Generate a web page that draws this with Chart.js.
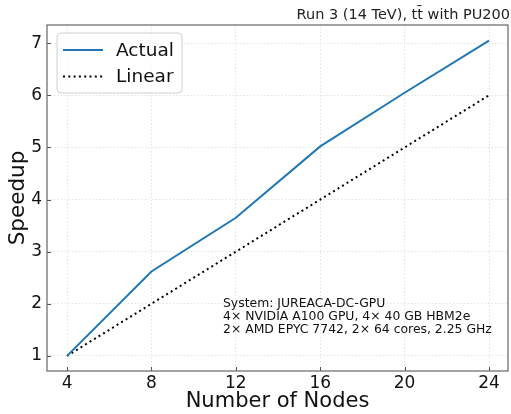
<!DOCTYPE html>
<html><head><meta charset="utf-8">
<script src="https://cdn.jsdelivr.net/npm/chart.js@4"></script>
<style>html,body{margin:0;padding:0;background:#fff}canvas{display:block}</style>
</head><body>
<canvas id="c" width="511" height="414"></canvas>
<script>
const nodes = [4, 8, 12, 16, 20, 24];
const actual = [1, 2.62, 3.65, 5.02, 6.05, 7.05];
const linear = [1, 2, 3, 4, 5, 6];
const xTicks = [4, 8, 12, 16, 20, 24];
const yTicks = [1, 2, 3, 4, 5, 6, 7];
const seriesLabels = ['Actual', 'Linear'];
const titleText = 'Run 3 (14 TeV), tt\u0304 with PU200';
const noteLines = ['System: JUREACA-DC-GPU', '4\u00d7 NVIDIA A100 GPU, 4\u00d7 40 GB HBM2e', '2\u00d7 AMD EPYC 7742, 2\u00d7 64 cores, 2.25 GHz'];
const xTitle = 'Number of Nodes';
const yTitle = 'Speedup';

const FONT = "'DejaVu Sans', sans-serif";

const extras = {
  id: 'extras',
  afterDraw(chart) {
    const ctx = chart.ctx;
    const a = chart.chartArea;
    const xs = chart.scales.x, ys = chart.scales.y;
    ctx.save();
    // inward ticks
    ctx.strokeStyle = '#555';
    ctx.lineWidth = 1;
    ctx.setLineDash([]);
    xTicks.forEach(v => {
      const px = Math.round(xs.getPixelForValue(v)) + 0.5;
      ctx.beginPath(); ctx.moveTo(px, a.bottom); ctx.lineTo(px, a.bottom - 4); ctx.stroke();
    });
    yTicks.forEach(v => {
      const py = Math.round(ys.getPixelForValue(v)) + 0.5;
      ctx.beginPath(); ctx.moveTo(a.left, py); ctx.lineTo(a.left + 4, py); ctx.stroke();
    });
    // frame
    ctx.strokeStyle = '#666';
    ctx.lineWidth = 1.2;
    ctx.strokeRect(a.left, a.top, a.right - a.left, a.bottom - a.top);
    // title
    ctx.fillStyle = '#222';
    ctx.font = '14.5px ' + FONT;
    ctx.textAlign = 'right';
    ctx.textBaseline = 'alphabetic';
    ctx.fillText(titleText, a.right + 2, 19);
    // legend
    const lx = a.left + 10, ly = a.top + 8, lw = 125, lh = 60;
    ctx.beginPath();
    ctx.roundRect(lx, ly, lw, lh, 4);
    ctx.fillStyle = 'rgba(255,255,255,0.8)';
    ctx.fill();
    ctx.strokeStyle = '#d0d0d0';
    ctx.lineWidth = 1;
    ctx.stroke();
    chart.data.datasets.forEach((ds, i) => {
      const yy = ly + 17 + i * 26.5;
      ctx.beginPath();
      ctx.strokeStyle = ds.borderColor;
      ctx.lineWidth = ds.borderWidth;
      ctx.setLineDash(ds.borderDash || []);
      ctx.moveTo(lx + 6, yy); ctx.lineTo(lx + 46, yy); ctx.stroke();
      ctx.setLineDash([]);
      ctx.fillStyle = '#111';
      ctx.font = '18.5px ' + FONT;
      ctx.textAlign = 'left';
      ctx.textBaseline = 'middle';
      ctx.fillText(ds.label, lx + 59, yy + 1);
    });
    // annotation
    ctx.fillStyle = '#111';
    ctx.font = '12.4px ' + FONT;
    ctx.textAlign = 'left';
    ctx.textBaseline = 'alphabetic';
    noteLines.forEach((t, i) => ctx.fillText(t, a.left + 176, 307 + i * 13));
    ctx.restore();
  }
};

new Chart(document.getElementById('c'), {
  type: 'line',
  data: {
    datasets: [
      { label: seriesLabels[0], data: nodes.map((x, i) => ({ x, y: actual[i] })), borderColor: '#1f77b4', borderWidth: 2, pointRadius: 0, fill: false, tension: 0 },
      { label: seriesLabels[1], data: nodes.map((x, i) => ({ x, y: linear[i] })), borderColor: '#000', borderWidth: 2, borderDash: [2, 3.3], pointRadius: 0, fill: false, tension: 0 }
    ]
  },
  options: {
    responsive: false,
    animation: false,
    devicePixelRatio: 1,
    layout: { padding: { top: 25, right: 3, left: 0, bottom: 0 } },
    plugins: { legend: { display: false }, tooltip: { enabled: false } },
    scales: {
      x: {
        type: 'linear', min: 3.05, max: 24.9,
        afterBuildTicks: s => { s.ticks = xTicks.map(v => ({ value: v })); },
        afterFit: s => { s.height = 43; },
        ticks: { font: { family: FONT, size: 17 }, color: '#111', padding: 2, maxRotation: 0 },
        grid: { color: '#dcdcdc', lineWidth: 0.8, drawTicks: false },
        border: { display: false, dash: [1.5, 2] },
        title: { display: true, text: xTitle, font: { family: FONT, size: 21 }, color: '#111', padding: { top: 0, bottom: 0 } }
      },
      y: {
        type: 'linear', min: 0.71, max: 7.35,
        afterBuildTicks: s => { s.ticks = yTicks.map(v => ({ value: v })); },
        afterFit: s => { s.width = 47; },
        ticks: { font: { family: FONT, size: 17 }, color: '#111', padding: 5 },
        grid: { color: '#dcdcdc', lineWidth: 0.8, drawTicks: false },
        border: { display: false, dash: [1.5, 2] },
        title: { display: true, text: yTitle, font: { family: FONT, size: 21.5 }, color: '#111', padding: { top: 6, bottom: 0 } }
      }
    }
  },
  plugins: [extras]
});
</script>
</body></html>
